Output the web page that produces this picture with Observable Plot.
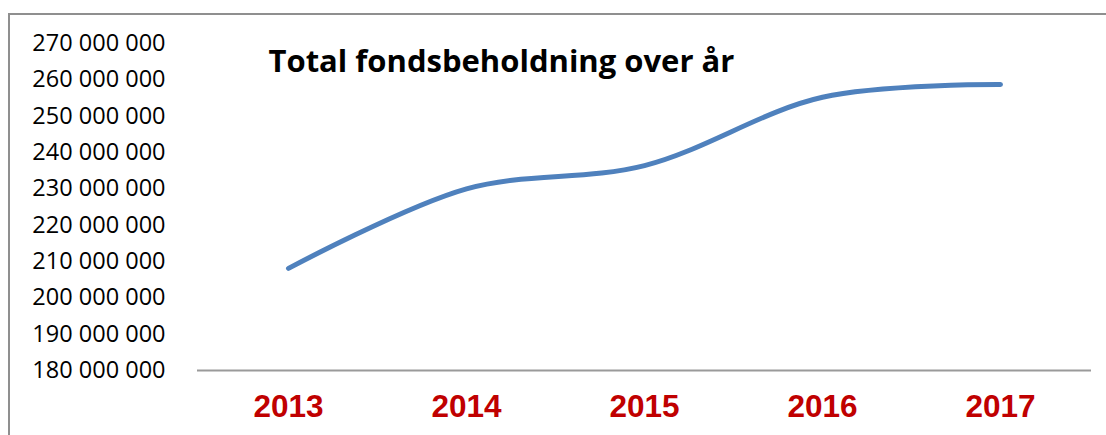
<!DOCTYPE html>
<html>
<head>
<meta charset="utf-8">
<script src="https://cdn.jsdelivr.net/npm/d3@7"></script>
<script src="https://cdn.jsdelivr.net/npm/@observablehq/plot@0.6"></script>
<style>
  html, body { margin: 0; padding: 0; background: #fff; overflow: hidden; }
  #wrap { position: relative; width: 1106px; height: 435px; }
  #border { position: absolute; left: 8px; top: 13px; width: 1200px; height: 600px;
            border-left: 2px solid #8f8f8f; border-top: 2px solid #8f8f8f; box-sizing: border-box; }
  #chart { position: absolute; left: 0; top: 0; }
</style>
</head>
<body>
<div id="wrap"><div id="border"></div><div id="chart"></div></div>
<script>
const years = ["2013", "2014", "2015", "2016", "2017"];
const totals = [208100000, 230000000, 236400000, 255200000, 258700000];
const yTicks = [180000000, 190000000, 200000000, 210000000, 220000000, 230000000, 240000000, 250000000, 260000000, 270000000];
const title = "Total fondsbeholdning over år";

const data = years.map((y, i) => ({year: y, value: totals[i]}));
const fmt = d => d3.format(",")(d).replace(/,/g, " ");

const chart = Plot.plot({
  width: 1106,
  height: 435,
  marginLeft: 197,
  marginRight: 15,
  marginTop: 43,
  marginBottom: 65,
  x: {type: "point", domain: years, padding: 0.5, label: null},
  y: {domain: [180000000, 270000000], label: null},
  style: {background: "transparent", overflow: "visible"},
  marks: [
    Plot.axisY({ticks: yTicks, tickFormat: fmt, tickSize: 0, tickPadding: 32,
      fontSize: 23.5, fontFamily: "Open Sans", fill: "#000", label: null}),
    Plot.axisX({tickSize: 0, tickPadding: 24, fontSize: 31.5, fontWeight: "bold",
      fontFamily: "Liberation Sans", fill: "#C00000", label: null}),
    Plot.ruleY([180000000], {stroke: "#9a9a9a", strokeWidth: 2}),
    Plot.line(data, {x: "year", y: "value", stroke: "#4F81BD", strokeWidth: 5,
      curve: "catmull-rom", strokeLinecap: "round"}),
    Plot.text([title], {frameAnchor: "top-left", dx: 71, dy: 28, lineAnchor: "bottom",
      textAnchor: "start", fontSize: 31, fontWeight: "bold", fontFamily: "Open Sans", fill: "#000"})
  ]
});
document.getElementById("chart").appendChild(chart);
</script>
</body>
</html>
